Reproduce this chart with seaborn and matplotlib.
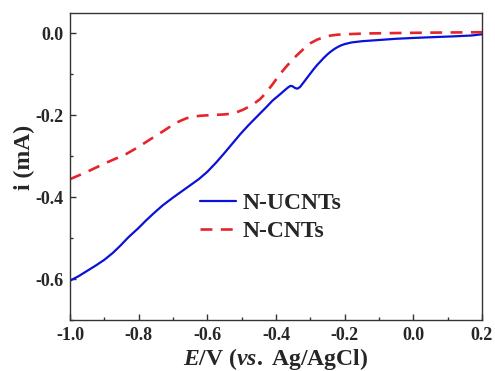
import matplotlib
matplotlib.use("Agg")
import matplotlib.pyplot as plt
import seaborn as sns
import pandas as pd
from matplotlib.ticker import MultipleLocator

# Data
ucnt_E = [-1.0, -0.975, -0.95, -0.925, -0.9, -0.875, -0.854, -0.83, -0.8, -0.78, -0.757, -0.73,
          -0.7, -0.675, -0.65, -0.625, -0.6, -0.575, -0.55, -0.525, -0.505, -0.48, -0.46,
          -0.44, -0.427, -0.41, -0.39, -0.375, -0.365, -0.358, -0.352, -0.345, -0.338, -0.33,
          -0.32, -0.31, -0.30, -0.29, -0.28, -0.27, -0.26, -0.25, -0.24, -0.23, -0.22, -0.21,
          -0.20, -0.18, -0.15, -0.10, -0.05, 0.0, 0.058, 0.12, 0.17, 0.2]
ucnt_i = [-0.604, -0.593, -0.580, -0.567, -0.553, -0.536, -0.519, -0.498, -0.475, -0.458, -0.440,
          -0.420, -0.401, -0.386, -0.371, -0.356, -0.338, -0.316, -0.292, -0.267, -0.247, -0.224,
          -0.207, -0.190, -0.179, -0.164, -0.150, -0.139, -0.132, -0.128, -0.129, -0.133, -0.135,
          -0.131, -0.120, -0.109, -0.098, -0.087, -0.077, -0.068, -0.059, -0.051, -0.044, -0.038,
          -0.033, -0.029, -0.026, -0.022, -0.019, -0.016, -0.013, -0.011, -0.009, -0.007, -0.005,
          -0.002]

cnt_E = [-1.0, -0.95, -0.9, -0.835, -0.8, -0.767, -0.74, -0.72, -0.70, -0.68, -0.66, -0.64,
         -0.62, -0.60, -0.58, -0.553, -0.53, -0.51, -0.495, -0.47, -0.447, -0.43, -0.408, -0.39,
         -0.369, -0.345, -0.33, -0.316, -0.30, -0.28, -0.26, -0.24, -0.22, -0.2, -0.136, -0.05,
         0.05, 0.2]
cnt_i = [-0.356, -0.338, -0.318, -0.294, -0.277, -0.259, -0.245, -0.234, -0.223, -0.214, -0.207,
         -0.203, -0.201, -0.200, -0.199, -0.198, -0.196, -0.191, -0.186, -0.175, -0.161, -0.146,
         -0.122, -0.101, -0.080, -0.058, -0.046, -0.035, -0.024, -0.015, -0.009, -0.005, -0.003,
         -0.002, 0.0, 0.001, 0.002, 0.003]

series_names = ["N-UCNTs", "N-CNTs"]
x_ticks = [-1.0, -0.8, -0.6, -0.4, -0.2, 0.0, 0.2]
y_ticks = [-0.6, -0.4, -0.2, 0.0]

sns.set_style("ticks")
plt.rcParams["font.family"] = ["Liberation Serif", "DejaVu Serif"]
plt.rcParams["font.weight"] = "bold"
plt.rcParams["mathtext.fontset"] = "custom"
plt.rcParams["mathtext.it"] = "Liberation Serif:italic:bold"
plt.rcParams["mathtext.rm"] = "Liberation Serif:bold"
plt.rcParams["xtick.direction"] = "in"
plt.rcParams["ytick.direction"] = "in"

df_u = pd.DataFrame({"E": ucnt_E, "i": ucnt_i})
df_c = pd.DataFrame({"E": cnt_E, "i": cnt_i})

fig = plt.figure(figsize=(4.95, 3.71), dpi=100)
ax = fig.add_axes([0.1414, 0.1375, 0.8323, 0.8275])

sns.lineplot(data=df_u, x="E", y="i", ax=ax, color="#0a12d6", linewidth=1.6,
             sort=False, label=series_names[0])
sns.lineplot(data=df_c, x="E", y="i", ax=ax, color="#e5242b", linewidth=1.9,
             sort=False, label=series_names[1], dashes=False)
ax.lines[1].set_dashes([4.5, 3.2])

ax.set_xlim(-1.0, 0.2)
ax.set_ylim(-0.70, 0.05)
ax.set_xticks(x_ticks)
ax.set_yticks(y_ticks)
ax.set_xticklabels([f"{v:.1f}" for v in x_ticks])
ax.set_yticklabels([f"{v:.1f}" for v in y_ticks])
ax.xaxis.set_minor_locator(MultipleLocator(0.1))
ax.yaxis.set_minor_locator(MultipleLocator(0.1))
ax.tick_params(axis="both", which="major", length=4, width=1, labelsize=13, pad=5,
               color="#333333")
ax.tick_params(axis="both", which="minor", length=2.5, width=1, color="#333333")
for lbl in ax.get_xticklabels() + ax.get_yticklabels():
    lbl.set_fontweight("bold")

for sp in ax.spines.values():
    sp.set_visible(True)
    sp.set_linewidth(1.0)
    sp.set_color("#333333")

ax.set_xlabel(r"$E$/V ($vs.$ Ag/AgCl)", fontsize=17, fontweight="bold")
ax.xaxis.set_label_coords(0.5, -0.085)
ax.set_ylabel("i (mA)", fontsize=17, fontweight="bold")
ax.yaxis.set_label_coords(-0.085, 0.53)

leg = ax.legend(loc="upper left", bbox_to_anchor=(0.265, 0.485), frameon=False,
                prop={"family": "Liberation Serif", "weight": "bold", "size": 17},
                handlelength=1.5, handletextpad=0.3, labelspacing=0.28)

fig.savefig("out.png", dpi=100)
